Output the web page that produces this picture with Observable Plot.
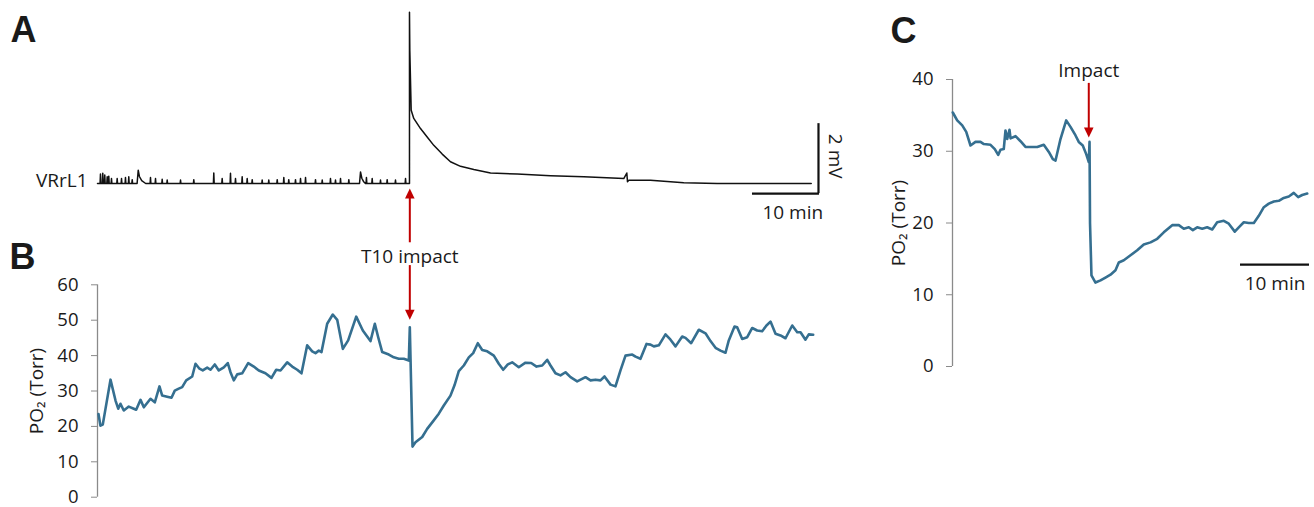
<!DOCTYPE html>
<html><head><meta charset="utf-8">
<script src="https://cdn.jsdelivr.net/npm/d3@7"></script>
<script src="https://cdn.jsdelivr.net/npm/@observablehq/plot@0.6"></script>
<style>
html,body{margin:0;padding:0;background:#fff;}
#fig{position:relative;width:1314px;height:507px;overflow:hidden;background:#fff;}
#fig svg{position:absolute;overflow:visible;}
</style></head><body><div id="fig"></div>
<script>
// ---------- Panel A: ventral root (VRrL1) recording, time in min, amplitude in mV ----------
const vrSpikesT = [0.45,0.8,1.1,1.47,1.71,2.12,2.98,3.64,4.24,4.74,5.26,8.03,8.79,9.8,10.56,12.58,14.59,17.62,18.89,20.15,20.91,21.92,22.68,23.44,24.95,25.95,27.23,28.23,28.98,30.0,30.76,31.52,33.03,34.05,35.3,36.06,36.82,38.08,40.75,41.62,42.88,43.89,45.15,46.67];
const vrSpikesH = [0.27,0.29,0.24,0.19,0.21,0.14,0.14,0.14,0.17,0.19,0.11,0.17,0.14,0.12,0.10,0.10,0.11,0.30,0.14,0.29,0.14,0.19,0.14,0.11,0.10,0.10,0.11,0.17,0.11,0.11,0.14,0.17,0.11,0.10,0.14,0.10,0.14,0.11,0.17,0.14,0.10,0.11,0.10,0.14];
const vrBump1 = [[6.0,0],[6.17,0.38],[6.35,0.2],[6.7,0.08],[7.3,0]];
const vrBump2 = [[39.7,0],[39.85,0.33],[40.05,0.15],[40.3,0.06],[40.6,0]];
const vrPostT = [47.27,47.27,47.32,47.53,47.92,48.94,49.95,50.95,52.23,53.48,55.0,57.02,59.55,63.59,68.64,73.68,79.74,80.2,80.3,80.5,83.79,88.83,93.89,101.47,108.14];
const vrPostV = [0,4.89,3.81,2.09,1.86,1.57,1.33,1.09,0.84,0.62,0.49,0.40,0.30,0.27,0.22,0.19,0.14,0.30,0.05,0.09,0.09,0.02,0,0,0];

// ---------- Panel B: PO2 (Torr) vs time (min) ----------
const po2BT = [0.15,0.45,0.8,1.97,2.73,3.14,3.48,3.98,4.74,5.5,5.86,6.52,7.02,8.03,8.68,9.39,9.8,10.56,11.21,11.71,12.23,12.83,13.44,14.35,14.85,15.45,15.95,16.62,17.12,17.77,18.38,19.14,19.74,20.15,20.65,21.17,21.92,22.83,23.68,24.44,25.45,26.36,27.08,27.73,28.74,29.5,30.26,30.91,31.77,32.53,33.03,33.53,33.94,34.8,35.65,36.32,37.17,37.98,39.2,40.2,41.36,42.02,42.53,43.14,44.14,44.89,45.65,46.41,47.17,47.32,47.73,
  48.18,49.2,49.95,50.95,51.71,52.47,53.48,54.09,54.74,55.5,56.26,56.92,57.62,58.29,59.05,60.05,60.8,61.47,62.17,62.83,63.83,64.85,65.71,66.52,67.38,68.14,68.64,69.39,70.15,70.91,71.67,72.68,73.94,74.7,75.45,76.21,76.82,77.73,78.48,79.24,80.0,81.02,81.52,82.27,83.18,83.79,84.29,85.05,86.06,86.82,87.58,88.59,89.09,89.95,91.11,92.12,92.88,93.64,94.39,95.15,95.65,96.52,96.92,97.68,98.44,99.2,99.95,100.71,101.36,101.97,102.73,103.48,104.24,105.26,106.02,106.52,107.27,107.77,108.44];
const po2BV = [23.5,20.2,20.5,33.2,27.3,25.0,26.4,24.5,25.6,25.0,24.7,27.5,25.4,27.8,26.8,31.3,28.7,28.4,28.1,30.1,30.6,31.1,33.0,34.1,37.7,36.3,35.8,36.6,36.0,37.5,35.8,36.7,37.9,35.3,33.0,34.7,35.0,37.9,36.9,35.8,35.0,33.7,36.0,35.8,38.1,36.9,36.0,35.0,42.9,41.2,40.7,41.4,41.0,49.0,51.6,50.1,41.9,44.3,51.0,47.1,44.1,49.0,45.2,41.0,40.3,39.5,39.1,39.1,38.6,48.0,14.3,
  15.5,17.0,19.3,21.7,23.6,25.9,28.7,31.6,35.6,37.2,39.5,40.7,43.5,41.6,41.2,40.0,37.7,36.0,37.5,38.1,36.7,38.0,37.9,36.9,37.2,38.8,37.2,35.0,34.4,35.3,33.9,32.7,33.9,33.0,33.2,33.0,34.1,31.8,31.3,35.8,40.0,40.3,39.7,39.1,43.3,43.1,42.6,42.9,46.0,44.5,42.6,45.4,45.0,43.5,47.3,46.3,44.1,42.2,41.4,40.8,44.3,48.2,48.0,44.7,45.2,47.8,47.1,46.9,48.5,49.6,46.2,45.7,44.9,48.5,46.6,46.6,44.5,46.0,45.9];
const yTicksB = [0,10,20,30,40,50,60];

// ---------- Panel C: PO2 (Torr) vs time (min) ----------
const po2CT = [0.04,0.68,1.41,1.99,2.61,3.33,4.06,4.54,5.51,6.13,6.62,6.96,7.43,7.68,7.93,8.26,8.41,9.13,9.86,10.58,11.55,12.28,13.23,13.96,14.54,14.93,15.65,16.48,17.1,17.83,18.3,18.88,19.38,19.75,19.86,19.93,20.14,20.72,21.45,22.17,22.9,23.62,24.1,24.83,25.8,26.77,27.72,28.7,29.67,30.62,31.84,32.8,33.52,34.25,34.83,35.46,36.19,36.91,37.64,38.36,39.32,40.04,40.91,41.49,42.22,42.94,43.67,44.39,45.12,45.84,46.57,47.29,48.01,48.74,49.46,50.1,50.68,51.41];
const po2CV = [35.4,34.3,33.6,32.7,30.8,31.3,31.3,31.0,30.9,30.3,29.5,30.2,30.3,32.9,31.7,33.0,31.8,32.1,31.4,30.6,30.6,30.6,30.9,29.9,28.9,28.7,31.7,34.3,33.4,32.2,31.3,30.8,29.6,28.5,31.3,20.0,12.7,11.7,12.0,12.4,12.8,13.4,14.5,14.8,15.5,16.2,17.0,17.3,17.8,18.7,19.7,19.7,19.2,19.4,19.0,19.4,19.2,19.4,19.1,20.1,20.3,19.9,18.8,19.4,20.1,20.0,20.0,21.0,22.2,22.7,23.0,23.1,23.5,23.7,24.2,23.6,23.9,24.1];
const yTicksC = [0,10,20,30,40];

// ---------- build tables ----------
const vrTrace = [{t: 0, v: 0}];
const bumps = [...vrBump1, ...vrBump2].map(([t, v]) => ({t, v}));
vrSpikesT.forEach((t, i) => {
  vrTrace.push({t: t - 0.06, v: 0}, {t, v: vrSpikesH[i]}, {t: t + 0.06, v: 0});
});
vrTrace.push(...bumps);
vrTrace.sort((a, b) => a.t - b.t);
vrPostT.forEach((t, i) => vrTrace.push({t, v: vrPostV[i]}));
const traceB = po2BT.map((t, i) => ({t, v: po2BV[i]}));
const traceC = po2CT.map((t, i) => ({t, v: po2CV[i]}));

const BLUE = "#356f90", RED = "#c00000", AXIS = "#8a8a8a", INK = "#1a1a1a";
const baseStyle = {fontFamily: "'Open Sans', sans-serif", fontSize: "19px", color: INK, background: "transparent", overflow: "visible"};
const letterFont = {fontFamily: "'Liberation Sans', Arial, sans-serif", fontWeight: "bold", fontSize: 36, textAnchor: "middle", lineAnchor: "middle"};
const center = {textAnchor: "middle", lineAnchor: "middle"};

// filled triangular arrow head; tip sits at the anchor point
const headShape = {draw(context, l) {
  context.moveTo(0, -l);
  context.lineTo(-4.8, -l + 10);
  context.lineTo(4.8, -l + 10);
  context.closePath();
}};

const impactB = 47.32, impactC = 19.75;
const barA = {t: 109.24, y0: -0.29};
const barC = {t: 51.74, y: 14.2};

const fig = document.getElementById("fig");
function place(svg, left, top) { svg.style.left = left + "px"; svg.style.top = top + "px"; fig.appendChild(svg); }

function redArrow(x, from, to) {
  const up = to > from;
  return [
    Plot.ruleX([x], {y1: from, y2: to, stroke: RED, strokeWidth: 2, dy: up ? 4 : -4}),
    Plot.vector([x], {x: d => d, y: to, length: 10, anchor: "end", rotate: up ? 0 : 180, shape: headShape, fill: RED, stroke: "none"})
  ];
}

// Panel A
const plotA = Plot.plot({
  width: 870, height: 230, marginLeft: 97, marginTop: 0, marginRight: 0, marginBottom: 0,
  style: baseStyle,
  x: {domain: [0, 10], range: [97, 163], axis: null},
  y: {domain: [0, 2], range: [183, 113], axis: null},
  marks: [
    Plot.line(vrTrace, {x: "t", y: "v", stroke: "#111", strokeWidth: 1.5, curve: "linear"}),
    Plot.ruleX([barA.t], {y1: barA.y0, y2: barA.y0 + 2, stroke: "#111", strokeWidth: 2.2}),
    Plot.ruleY([barA.y0], {x1: barA.t - 10, x2: barA.t + 0.15, stroke: "#111", strokeWidth: 2.2}),
    Plot.text(["2 mV"], {x: barA.t, y: barA.y0 + 1.07, dx: 17, rotate: 90, ...center}),
    Plot.text(["10 min"], {x: barA.t - 3.9, y: barA.y0, dy: 19, ...center}),
    Plot.text(["VRrL1"], {x: 0, y: 0, dx: -10, dy: -3, textAnchor: "end"}),
    Plot.text(["A"], {frameAnchor: "top-left", dx: -74, dy: 30, ...letterFont})
  ]
});
place(plotA, 0, 0);

// Panel B
const topB = 180;
const plotB = Plot.plot({
  width: 870, height: 327, marginLeft: 97, marginTop: 284.3 - topB, marginRight: 0, marginBottom: 327 - (496.7 - topB),
  style: baseStyle,
  x: {domain: [0, 10], range: [97, 163], axis: null},
  y: {domain: [0, 60], range: [496.7 - topB, 284.3 - topB], axis: null},
  marks: [
    Plot.ruleX([0], {y1: d3.min(yTicksB), y2: d3.max(yTicksB), stroke: AXIS, strokeWidth: 1.3}),
    Plot.axisY(yTicksB, {tickSize: 6, tickPadding: 13, stroke: AXIS, fill: INK, fontSize: 18.5, label: null}),
    Plot.text(["PO₂ (Torr)"], {frameAnchor: "left", dx: -61, rotate: -90, ...center}),
    Plot.line(traceB, {x: "t", y: "v", stroke: BLUE, strokeWidth: 2.6, strokeLinejoin: "round"}),
    ...redArrow(impactB, 73.0, 87.2),
    ...redArrow(impactB, 64.3, 50.1),
    Plot.text(["T10 impact"], {x: impactB, y: 68.0, ...center}),
    Plot.text(["B"], {frameAnchor: "top-left", dx: -75, dy: -27, ...letterFont})
  ]
});
place(plotB, 0, topB);

// Panel C
const plotC = Plot.plot({
  width: 444, height: 380, marginLeft: 82, marginTop: 79, marginRight: 0, marginBottom: 14,
  style: baseStyle,
  x: {domain: [0, 10], range: [82, 151], axis: null},
  y: {domain: [0, 40], range: [366, 79], axis: null},
  marks: [
    Plot.ruleX([0], {y1: d3.min(yTicksC), y2: d3.max(yTicksC), stroke: AXIS, strokeWidth: 1.3}),
    Plot.axisY(yTicksC, {tickSize: 6, tickPadding: 13, stroke: AXIS, fill: INK, fontSize: 18.5, label: null}),
    Plot.text(["PO₂ (Torr)"], {frameAnchor: "left", dx: -54, rotate: -90, ...center}),
    Plot.line(traceC, {x: "t", y: "v", stroke: BLUE, strokeWidth: 2.6, strokeLinejoin: "round"}),
    ...redArrow(impactC, 38.9, 31.9),
    Plot.text(["Impact"], {x: impactC, y: 41.2, ...center}),
    Plot.ruleY([barC.y], {x1: barC.t - 10, x2: barC.t, stroke: "#111", strokeWidth: 2.2}),
    Plot.text(["10 min"], {x: barC.t - 5, y: barC.y, dy: 19, ...center}),
    Plot.text(["C"], {frameAnchor: "top-left", dx: -49, dy: -48, ...letterFont})
  ]
});
place(plotC, 870, 0);
</script></body></html>
